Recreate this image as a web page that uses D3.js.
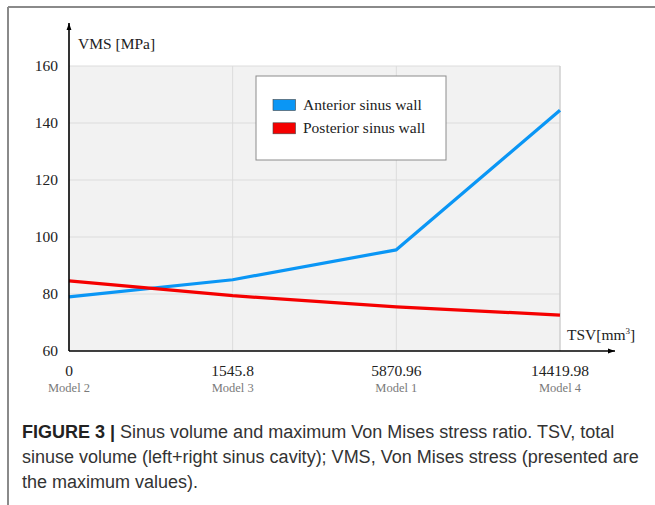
<!DOCTYPE html>
<meta charset="utf-8">
<head>
  <script src="https://d3js.org/d3.v7.min.js"></script>
  <style>
    body { margin: 0; background: #fff; }
    svg { display: block; }
  </style>
</head>
<body>
<div id="my_dataviz"></div>
<script>

// data
var categories = ["0", "1545.8", "5870.96", "14419.98"];
var models = ["Model 2", "Model 3", "Model 1", "Model 4"];
var anterior = [79, 85, 95.5, 144.5];
var posterior = [84.6, 79.4, 75.5, 72.6];
var yTicks = [60, 80, 100, 120, 140, 160];
var seriesNames = ["Anterior sinus wall", "Posterior sinus wall"];
var seriesColors = ["#0a96f5", "#f50000"];

var W = 655, H = 505;
var margin = {top: 66, left: 69, right: 95, bottom: 154};
var width = W - margin.left - margin.right,   // 491
    height = H - margin.top - margin.bottom;  // 285

var svg = d3.select("#my_dataviz")
  .append("svg")
    .attr("width", W)
    .attr("height", H);

// outer frame (top + left only visible)
svg.append("line").attr("x1", 8).attr("x2", W).attr("y1", 7).attr("y2", 7)
  .attr("stroke", "#8a8a8a").attr("stroke-width", 2);
svg.append("line").attr("x1", 8).attr("x2", 8).attr("y1", 7).attr("y2", H)
  .attr("stroke", "#8a8a8a").attr("stroke-width", 2);

var g = svg.append("g")
  .attr("transform", "translate(" + margin.left + "," + margin.top + ")");

var x = d3.scalePoint()
  .domain(categories)
  .range([0, width]);

var y = d3.scaleLinear()
  .domain([60, 160])
  .range([height, 0]);

// plot background
g.append("rect")
  .attr("x", 0).attr("y", 0)
  .attr("width", width).attr("height", height)
  .attr("fill", "#f2f2f2");

// grid
g.selectAll(".hgrid")
  .data(yTicks.slice(1))
  .enter().append("line")
    .attr("x1", 0).attr("x2", width)
    .attr("y1", function(d) { return y(d); })
    .attr("y2", function(d) { return y(d); })
    .attr("stroke", "#dcdcdc").attr("stroke-width", 1);
g.selectAll(".vgrid")
  .data(categories.slice(1))
  .enter().append("line")
    .attr("x1", function(d) { return x(d); })
    .attr("x2", function(d) { return x(d); })
    .attr("y1", 0).attr("y2", height)
    .attr("stroke", function(d, i) { return i == 2 ? "#cfcfcf" : "#dcdcdc"; })
    .attr("stroke-width", function(d, i) { return i == 2 ? 1.5 : 1; });

// lines
var line = d3.line()
  .x(function(d, i) { return x(categories[i]); })
  .y(function(d) { return y(d); });

[anterior, posterior].forEach(function(s, k) {
  g.append("path")
    .datum(s)
    .attr("d", line)
    .attr("fill", "none")
    .attr("stroke", seriesColors[k])
    .attr("stroke-width", 3.2)
    .attr("stroke-linejoin", "round");
});

// axes with arrows
var defs = svg.append("defs");
defs.append("marker")
  .attr("id", "arrow")
  .attr("viewBox", "0 0 10 10")
  .attr("refX", 10).attr("refY", 5)
  .attr("markerWidth", 7).attr("markerHeight", 7)
  .attr("markerUnits", "userSpaceOnUse")
  .attr("orient", "auto")
  .append("path").attr("d", "M0,1.5L10,5L0,8.5Z").attr("fill", "#000");

g.append("line")
  .attr("x1", 0).attr("x2", 0)
  .attr("y1", height).attr("y2", 23 - margin.top)
  .attr("stroke", "#000").attr("stroke-width", 1.6)
  .attr("marker-end", "url(#arrow)");
g.append("line")
  .attr("x1", 0).attr("x2", 615 - margin.left)
  .attr("y1", height).attr("y2", height)
  .attr("stroke", "#000").attr("stroke-width", 1.6)
  .attr("marker-end", "url(#arrow)");

var serif = "'Liberation Serif', 'Times New Roman', serif";

// y tick labels
g.selectAll(".ytick")
  .data(yTicks)
  .enter().append("text")
    .attr("x", -11)
    .attr("y", function(d) { return y(d) + 5; })
    .attr("text-anchor", "end")
    .attr("font-family", serif)
    .attr("font-size", 15.5)
    .attr("fill", "#222")
    .text(function(d) { return d; });

// x tick labels
g.selectAll(".xtick")
  .data(categories)
  .enter().append("text")
    .attr("x", function(d) { return x(d); })
    .attr("y", height + 25)
    .attr("text-anchor", "middle")
    .attr("font-family", serif)
    .attr("font-size", 15.5)
    .attr("fill", "#222")
    .text(function(d) { return d; });

g.selectAll(".model")
  .data(models)
  .enter().append("text")
    .attr("x", function(d, i) { return x(categories[i]); })
    .attr("y", height + 41)
    .attr("text-anchor", "middle")
    .attr("font-family", serif)
    .attr("font-size", 12.5)
    .attr("fill", "#7a7a7a")
    .text(function(d) { return d; });

// axis titles
svg.append("text")
  .attr("x", 78).attr("y", 49)
  .attr("font-family", serif).attr("font-size", 15.5).attr("fill", "#222")
  .text("VMS [MPa]");
var tsv = svg.append("text")
  .attr("x", 567).attr("y", 340)
  .attr("font-family", serif).attr("font-size", 15.5).attr("fill", "#222");
tsv.append("tspan").text("TSV[mm");
tsv.append("tspan").attr("font-size", 9).attr("dy", -6).text("3");
tsv.append("tspan").attr("dy", 6).text("]");

// legend
var lg = svg.append("g").attr("transform", "translate(256,76)");
lg.append("rect")
  .attr("width", 190).attr("height", 84)
  .attr("fill", "#fff").attr("stroke", "#8c8c8c").attr("stroke-width", 1);
seriesNames.forEach(function(n, i) {
  lg.append("rect")
    .attr("x", 17).attr("y", 23.5 + i * 23.3)
    .attr("width", 22.5).attr("height", 11)
    .attr("fill", seriesColors[i])
    .attr("stroke", "#444").attr("stroke-width", 0.6);
  lg.append("text")
    .attr("x", 47).attr("y", 34 + i * 23)
    .attr("font-family", serif).attr("font-size", 15.5).attr("fill", "#222")
    .text(n);
});

// caption
var sans = "'Liberation Sans', Arial, sans-serif";
var cap = svg.append("g").attr("font-family", sans).attr("font-size", 18).attr("fill", "#333");
var l1 = cap.append("text").attr("x", 22).attr("y", 438);
l1.append("tspan").attr("font-weight", "bold").attr("fill", "#222").text("FIGURE 3 |");
l1.append("tspan").text(" Sinus volume and maximum Von Mises stress ratio. TSV, total");
cap.append("text").attr("x", 22).attr("y", 463)
  .text("sinuse volume (left+right sinus cavity); VMS, Von Mises stress (presented are");
cap.append("text").attr("x", 22).attr("y", 488)
  .text("the maximum values).");

</script>
</body>
